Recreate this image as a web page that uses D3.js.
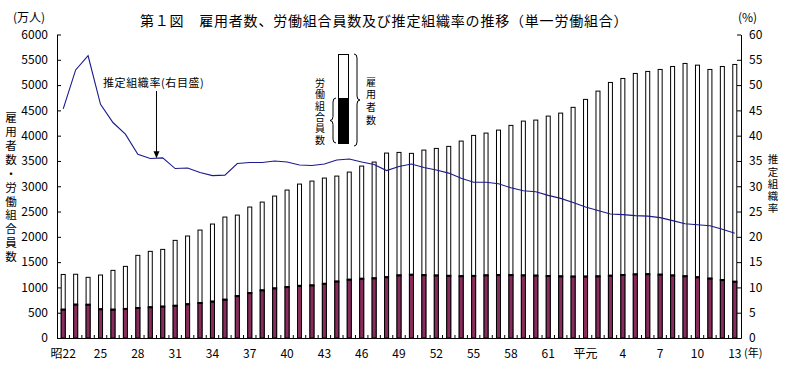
<!DOCTYPE html>
<html>
<head>
<meta charset="utf-8">
<script src="https://cdn.jsdelivr.net/npm/d3@7"></script>
<style>
body { margin: 0; background: #fff; }
svg { display: block; font-family: "Noto Sans CJK JP", sans-serif; }
</style>
</head>
<body>
<script>
// 昭22 (1947) .. 平13 (2001)
var categories = ["昭22","23","24","25","26","27","28","29","30","31","32","33","34","35","36","37","38","39","40",
    "41","42","43","44","45","46","47","48","49","50","51","52","53","54","55","56","57","58","59","60","61","62","63",
    "平元","2","3","4","5","6","7","8","9","10","11","12","13"];

// 雇用者数 (万人)
var employees = [1256,1260,1199,1245,1337,1416,1634,1713,1752,1930,2016,2134,2253,2391,2430,2589,2687,2806,2925,
    3043,3102,3162,3201,3280,3399,3478,3656,3669,3650,3715,3748,3788,3893,4005,4051,4110,4203,4288,4308,4387,4446,4560,
    4717,4881,5052,5131,5230,5270,5309,5368,5428,5394,5309,5368,5408];

// 労働組合員数 (万人)
var unionMembers = [569,668,666,577,569,584,603,616,629,646,676,702,728,766,837,897,950,989,1015,
    1040,1048,1080,1125,1161,1180,1188,1210,1246,1259,1251,1244,1238,1231,1237,1247,1253,1252,1246,1242,1234,1227,1223,
    1223,1227,1240,1254,1266,1270,1261,1245,1229,1209,1183,1154,1121];

// 推定組織率 (%)
var orgRate = [45.3,53.0,55.8,46.2,42.6,40.3,36.3,35.5,35.6,33.5,33.6,32.7,32.1,32.2,34.5,34.7,34.7,35.0,34.8,
    34.2,34.1,34.4,35.2,35.4,34.8,34.3,33.1,33.9,34.4,33.7,33.2,32.6,31.6,30.8,30.8,30.5,29.7,29.1,28.9,28.2,27.6,26.8,
    25.9,25.2,24.5,24.4,24.2,24.1,23.8,23.2,22.6,22.4,22.2,21.5,20.7];

var leftTicks = [0,500,1000,1500,2000,2500,3000,3500,4000,4500,5000,5500,6000];
var rightTicks = [0,5,10,15,20,25,30,35,40,45,50,55,60];

var width = 786, height = 372;
var plotL = 57, plotR = 741, plotT = 34.5, plotB = 338;

var svg = d3.select("body").append("svg")
    .attr("width", width)
    .attr("height", height);

var x = d3.scaleBand().domain(categories).range([plotL, plotR]);
var y = d3.scaleLinear().domain([0, 6000]).range([plotB, plotT]);
var yR = d3.scaleLinear().domain([0, 60]).range([plotB, plotT]);

function cx(i) { return x(categories[i]) + x.bandwidth() / 2; }

var barW = 4;

// title
svg.append("text")
    .attr("x", 140).attr("y", 26)
    .attr("font-size", 14).attr("letter-spacing", 0.8)
    .text("第１図　雇用者数、労働組合員数及び推定組織率の推移（単一労働組合）");

svg.append("text").attr("x", 13).attr("y", 22).attr("font-size", 12).text("(万人)");
svg.append("text").attr("x", 738).attr("y", 22).attr("font-size", 12).text("(%)");

// employees bars (white)
svg.selectAll(".emp")
    .data(employees)
    .enter().append("rect")
    .attr("class", "emp")
    .attr("x", function(d, i) { return cx(i) - barW / 2; })
    .attr("y", function(d) { return y(d); })
    .attr("width", barW)
    .attr("height", function(d) { return plotB - y(d); })
    .attr("fill", "#fff")
    .attr("stroke", "#000")
    .attr("stroke-width", 1);

// union member bars
svg.selectAll(".uni")
    .data(unionMembers)
    .enter().append("rect")
    .attr("class", "uni")
    .attr("x", function(d, i) { return cx(i) - barW / 2; })
    .attr("y", function(d) { return y(d); })
    .attr("width", barW)
    .attr("height", function(d) { return plotB - y(d); })
    .attr("fill", "#8b2c5e")
    .attr("stroke", "#000")
    .attr("stroke-width", 1);

svg.selectAll(".cap")
    .data(unionMembers)
    .enter().append("rect")
    .attr("class", "cap")
    .attr("x", function(d, i) { return cx(i) - barW / 2 - 0.5; })
    .attr("y", function(d) { return y(d) - 0.5; })
    .attr("width", barW + 1)
    .attr("height", 2)
    .attr("fill", "#000");

// axes
var axL = svg.append("g")
    .attr("transform", "translate(" + plotL + ",0)")
    .call(d3.axisLeft(y).tickValues(leftTicks).tickFormat(d3.format("d"))
        .tickSize(-4).tickPadding(9).tickSizeOuter(0));
var axR = svg.append("g")
    .attr("transform", "translate(" + plotR + ",0)")
    .call(d3.axisRight(yR).tickValues(rightTicks).tickFormat(d3.format("d"))
        .tickSize(-4).tickPadding(8).tickSizeOuter(0));
[axL, axR].forEach(function(g) {
    g.selectAll("text").attr("font-size", 12).attr("font-family", "Noto Sans CJK JP").attr("fill", "#000");
    g.selectAll("line,path").attr("stroke", "#000");
});

var axB = svg.append("g")
    .attr("transform", "translate(0," + plotB + ")")
    .call(d3.axisBottom(x).tickSize(0).tickPadding(11)
        .tickValues(categories.filter(function(d, i) { return i % 3 === 0; })));
axB.selectAll("text").attr("font-size", 12).attr("font-family", "Noto Sans CJK JP").attr("fill", "#000");
axB.select("path").attr("stroke", "#000");

// small ticks between categories
svg.selectAll(".xt")
    .data(categories.slice(1))
    .enter().append("line")
    .attr("x1", function(d) { return x(d); })
    .attr("x2", function(d) { return x(d); })
    .attr("y1", plotB).attr("y2", plotB - 3)
    .attr("stroke", "#000");

svg.append("text").attr("x", 744).attr("y", 357).attr("font-size", 11).text("(年)");

// rate line
var line = d3.line()
    .x(function(d, i) { return cx(i); })
    .y(function(d) { return yR(d); });
svg.append("path")
    .datum(orgRate)
    .attr("d", line)
    .attr("fill", "none")
    .attr("stroke", "#1a1a8c")
    .attr("stroke-width", 1.1);

// vertical texts (one element each)
function vtext(str, xx, yTop, step, size) {
    svg.append("text")
        .attr("x", xx).attr("y", yTop)
        .style("writing-mode", "vertical-rl")
        .style("text-orientation", "upright")
        .attr("font-size", size)
        .attr("letter-spacing", step - size)
        .text(str);
}
vtext("雇用者数・労働組合員数", 11, 112, 13.9, 11.5);
vtext("推定組織率", 773, 154, 12.3, 10.5);

// annotation
svg.append("text").attr("x", 103).attr("y", 87).attr("font-size", 11).attr("letter-spacing", 0.6)
    .text("推定組織率(右目盛)");
var ax = (cx(7) + cx(8)) / 2, ay = yR((orgRate[7] + orgRate[8]) / 2);
svg.append("line").attr("x1", ax).attr("x2", ax).attr("y1", 91).attr("y2", ay - 6)
    .attr("stroke", "#000");
svg.append("path").attr("d", "M" + (ax - 3) + "," + (ay - 7) + "L" + (ax + 3) + "," + (ay - 7) + "L" + ax + "," + ay + "Z")
    .attr("fill", "#000");

// legend
svg.append("rect").attr("x", 338.5).attr("y", 54.5).attr("width", 10).attr("height", 89)
    .attr("fill", "#fff").attr("stroke", "#000");
svg.append("rect").attr("x", 338.5).attr("y", 98.5).attr("width", 10).attr("height", 45)
    .attr("fill", "#000").attr("stroke", "#000");

function brace(xx, y1, y2, d) {
    var m = (y1 + y2) / 2;
    return "M" + xx + "," + y1 +
        "Q" + (xx + d) + "," + y1 + " " + (xx + d) + "," + (y1 + 4) +
        "L" + (xx + d) + "," + (m - 4) +
        "Q" + (xx + d) + "," + m + " " + (xx + 2 * d) + "," + m +
        "Q" + (xx + d) + "," + m + " " + (xx + d) + "," + (m + 4) +
        "L" + (xx + d) + "," + (y2 - 4) +
        "Q" + (xx + d) + "," + y2 + " " + xx + "," + y2;
}
svg.append("path").attr("d", brace(336, 98, 143, -3)).attr("fill", "none").attr("stroke", "#000");
svg.append("path").attr("d", brace(354, 54, 146, 3)).attr("fill", "none").attr("stroke", "#000");

vtext("労働組合員数", 320, 78, 11.4, 10);
vtext("雇用者数", 371, 77, 12.7, 10);
</script>
</body>
</html>
